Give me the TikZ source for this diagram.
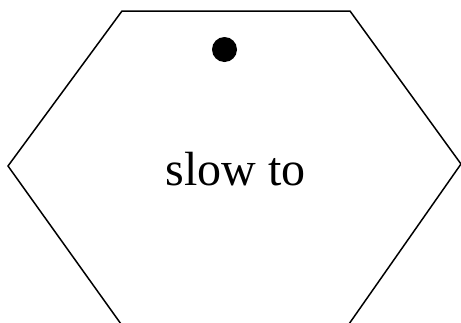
\documentclass[tikz,border=0pt]{standalone}
\usepackage{fontspec}
\setmainfont{Liberation Serif}
\begin{document}
\begin{tikzpicture}[x=1pt,y=-1pt,
  hexline/.style={draw=black,line width=1.5pt,line join=miter},
  dotmark/.style={circle,fill=black,inner sep=0pt,minimum size=25pt},
  label/.style={font=\fontsize{48}{50}\selectfont,inner sep=0pt,anchor=base}]
\useasboundingbox (0,0) rectangle (461,322);
\clip (0,0) rectangle (461,322);
\coordinate (bl) at (121,324);
\coordinate (l) at (8,166);
\coordinate (tl) at (122,11);
\coordinate (tr) at (350,11);
\coordinate (r) at (461,164);
\coordinate (br) at (349,324);
\draw[hexline] (bl) -- (l) -- (tl) -- (tr) -- (r) -- (br) -- cycle;
\node[dotmark] (dot) at (224.5,49.5) {};
\node[label] (txt) at (235.5,185.5) {slow to};
\end{tikzpicture}
\end{document}
